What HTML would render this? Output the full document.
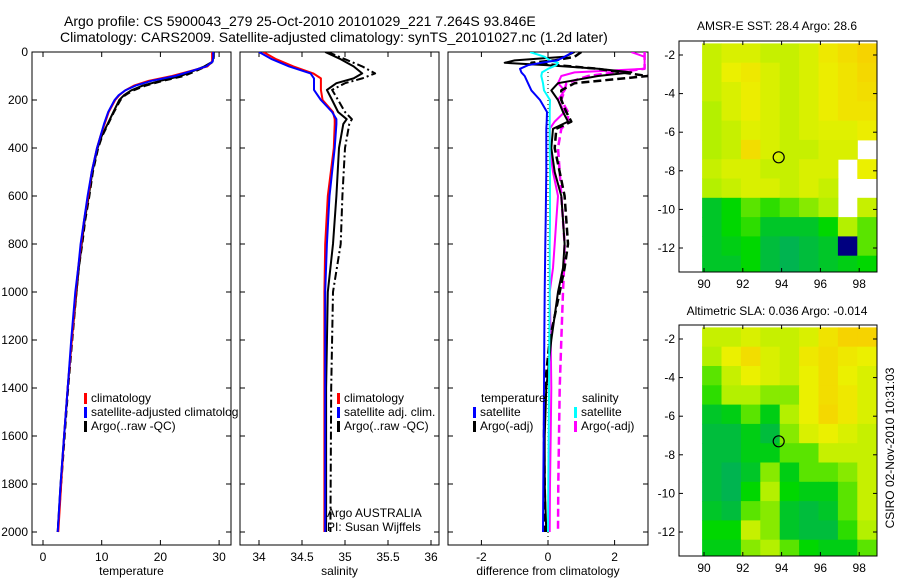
<!DOCTYPE html>
<html><head><meta charset="utf-8">
<style>
html,body{margin:0;padding:0;background:#fff;}
svg{display:block;font-family:"Liberation Sans",sans-serif;font-size:12px;}
</style></head>
<body>
<svg id="fig" width="900" height="580" viewBox="0 0 900 580">
<text x="64" y="26" style="font-size:14px">Argo profile: CS 5900043_279 25-Oct-2010 20101029_221 7.264S 93.846E</text>
<text x="60" y="42" style="font-size:14px">Climatology: CARS2009. Satellite-adjusted climatology: synTS_20101027.nc (1.2d later)</text>
<text x="777" y="30" text-anchor="middle">AMSR-E SST: 28.4 Argo: 28.6</text>
<text x="777" y="315" text-anchor="middle">Altimetric SLA: 0.036 Argo: -0.014</text>
<text transform="translate(894,448) rotate(-90)" text-anchor="middle">CSIRO 02-Nov-2010 10:31:03</text>
<g id="g"></g>
</svg>
<script>
// ---- data ----
const depths = [0,20,40,60,80,100,120,140,160,180,200,250,300,350,400,500,600,700,800,900,1000,1200,1400,1600,1800,2000];
const tempClim = [28.8,28.8,28.8,28,25,22,18,15.5,14,13,12.3,11.2,10.5,9.8,9.2,8.3,7.7,7,6.5,6,5.6,4.9,4.2,3.6,3.1,2.6];
const tempSat  = [29.0,29.0,28.9,27.8,25.2,22.5,18.5,15.8,14,12.9,12.2,11.1,10.4,9.8,9.2,8.3,7.6,7,6.4,6,5.5,4.8,4.2,3.6,3.0,2.5];
const tempArgo = [29.0,29.0,28.9,27.5,25.5,23.5,20,17,15,13.8,13,12,11,10,9.3,8.4,7.8,7.1,6.6,6.1,5.7,4.9,4.2,3.6,3.0,2.5];
const tempArgoAdj = [29.1,29.1,29.0,27.8,26.0,24.0,20.5,17.5,15.4,14.0,13.2,12.1,11.1,10.1,9.4,8.5,7.9,7.2,6.7,6.1,5.7,5.0,4.3,3.7,3.1,2.5];
const salDepths = [0,30,60,89,110,130,158,200,250,280,300,400,600,800,1000,1400,2000];
const salClim = [34.05,34.2,34.4,34.63,34.72,34.72,34.72,34.74,34.86,34.88,34.88,34.87,34.8,34.77,34.76,34.76,34.76];
const salSat  = [34.0,34.15,34.35,34.6,34.64,34.64,34.64,34.72,34.85,34.9,34.9,34.88,34.82,34.79,34.77,34.77,34.77];
const salArgo = [34.77,34.95,35.1,35.2,35.1,34.9,34.79,34.85,34.92,35.02,34.98,34.93,34.9,34.86,34.8,34.78,34.78];
const salArgoAdj = [34.8,35.0,35.2,35.35,35.2,35.0,34.85,34.92,35.0,35.08,35.05,35.0,34.97,34.95,34.86,34.84,34.83];
const diffDepths = [0,20,35,45,55,70,85,100,130,160,200,250,290,320,400,500,600,700,800,900,1000,1200,1400,1600,1800,2000];
const dTempSat = [0.75,0.5,0.27,-0.2,-0.6,-0.84,-0.8,-0.7,-0.6,-0.5,-0.24,-0.03,-0.04,-0.05,-0.05,-0.05,-0.06,-0.07,-0.08,-0.09,-0.1,-0.11,-0.12,-0.13,-0.14,-0.15];
const dSalSat  = [-0.54,-0.1,0.06,0.3,0.25,0.0,-0.18,-0.2,-0.15,-0.12,0.06,0.05,0.05,0.05,0.05,0.06,0.06,0.06,0.05,0.05,0.05,0.04,0.03,0.02,0.01,0.0];
const dTempArgo = [0.8,0.5,-1.0,-1.3,0,1.5,2.5,1.5,0.3,0.1,0.3,0.45,0.6,0.15,0.1,0.2,0.4,0.45,0.5,0.45,0.3,0.1,-0.05,-0.1,-0.1,-0.05];
const dTempArgoAdj = [1.0,0.8,0.2,-0.5,0.3,1.5,2.2,3.0,0.8,0.4,0.4,0.55,0.7,0.25,0.2,0.35,0.5,0.55,0.6,0.5,0.35,0.05,-0.1,-0.12,-0.1,-0.08];
const dSalArgo = [2.5,2.9,2.9,2.9,2.9,2.9,0.8,0.4,0.3,0.5,0.3,0.5,0.2,0.05,0.05,0.15,0.3,0.25,0.2,0.15,0.05,0.08,0.1,0.08,0.06,0.05];
const dSalArgoAdj = [2.9,2.9,2.9,2.9,2.9,2.9,2.0,1.2,0.55,0.5,0.4,0.6,0.6,0.4,0.3,0.35,0.4,0.45,0.5,0.48,0.45,0.4,0.35,0.33,0.31,0.3];
const depthTicks = [0,200,400,600,800,1000,1200,1400,1600,1800,2000];
const tempTicks = [0,10,20,30];
const salTicks = [34,34.5,35,35.5,36];
const diffTicks = [-2,0,2];
const lonTicks = [90,92,94,96,98];
const latTicks = [-2,-4,-6,-8,-10,-12];
const gridLons = [90,91,92,93,94,95,96,97,98];
const gridLats = [-1.4,-2.4,-3.4,-4.4,-5.4,-6.4,-7.4,-8.4,-9.4,-10.4,-11.4,-12.4];
const sstGrid = [
[0.45,0.5,0.5,0.45,0.45,0.5,0.58,0.62,0.66],
[0.45,0.55,0.58,0.5,0.45,0.5,0.56,0.6,0.64],
[0.45,0.5,0.56,0.5,0.45,0.5,0.56,0.6,0.62],
[0.4,0.5,0.56,0.5,0.45,0.5,0.56,0.6,0.6],
[0.4,0.45,0.52,0.5,0.45,0.5,0.52,0.52,0.56],
[0.4,0.45,0.62,0.5,0.45,0.45,0.5,0.5,null],
[0.45,0.5,0.5,0.45,0.45,0.5,0.5,null,0.55],
[0.4,0.45,0.5,0.5,0.45,0.5,0.45,null,null],
[0.1,0.2,0.3,0.25,0.3,0.35,0.4,null,0.45],
[0.1,0.2,0.25,0.1,0.1,0.1,0.2,0.4,0.3],
[0.1,0.15,0.2,0.05,0.0,0.05,0.1,-1,0.3],
[0.1,0.1,0.2,0.05,0.0,0.05,0.1,0.15,0.2]];
const slaGrid = [
[0.45,0.45,0.5,0.45,0.45,0.5,0.6,0.66,0.66],
[0.4,0.55,0.62,0.5,0.45,0.58,0.62,0.58,0.55],
[0.3,0.45,0.55,0.5,0.45,0.55,0.62,0.55,0.5],
[0.25,0.4,0.4,0.35,0.35,0.55,0.62,0.58,0.5],
[0.1,0.15,0.3,0.15,0.4,0.55,0.64,0.58,0.5],
[0.05,0.05,0.15,0.05,0.35,0.5,0.55,0.5,0.45],
[0.05,0.05,0.15,0.15,0.3,0.3,0.45,0.45,0.45],
[0.05,0.0,0.1,0.35,0.15,0.3,0.3,0.35,0.45],
[0.05,0.0,0.2,0.4,0.2,0.15,0.15,0.3,0.45],
[0.1,0.05,0.3,0.35,0.1,0.05,0.1,0.3,0.45],
[0.2,0.2,0.45,0.35,0.1,0.05,0.05,0.25,0.4],
[0.15,0.15,0.35,0.4,0.3,0.2,0.15,0.15,0.3]];
const argoLon = 93.85, argoLat = -7.3;

// ---- drawing ----
const NS='http://www.w3.org/2000/svg';
const G=document.getElementById('g');
function mk(tag,attrs,parent){const e=document.createElementNS(NS,tag);for(const k in attrs)e.setAttribute(k,attrs[k]);(parent||G).appendChild(e);return e;}
const yD = d => 52 + d*0.24;
const PB = 545;
function panel(name,x0,x1,xs,ticks,label,fmt){
  const r=mk('rect',{x:x0,y:52,width:x1-x0,height:PB-52,fill:'none',stroke:'#000','stroke-width':1});
  
  
  ticks.forEach(t=>{const x=xs(t);
    mk('line',{x1:x,x2:x,y1:PB,y2:PB-5,stroke:'#000'});
    mk('line',{x1:x,x2:x,y1:52,y2:57,stroke:'#000'});
    const tx=mk('text',{x:x,y:PB+16,'text-anchor':'middle'});tx.textContent=fmt?fmt(t):t;
    
    
  });
  depthTicks.forEach(d=>{const y=yD(d);
    mk('line',{x1:x0,x2:x0+5,y1:y,y2:y,stroke:'#000'});
    mk('line',{x1:x1,x2:x1-5,y1:y,y2:y,stroke:'#000'});
  });
  const l=mk('text',{x:(x0+x1)/2,y:PB+30,'text-anchor':'middle'});l.textContent=label;
  
  
}
function series(name,xs,vals,ds,color,dash,w,clip){
  const pts=vals.map((v,i)=>xs(v).toFixed(1)+','+yD(ds[i]).toFixed(1)).join(' ');
  const a={points:pts,fill:'none',stroke:color,'stroke-width':w||2,'stroke-linejoin':'round'};
  if(dash)a['stroke-dasharray']=dash;
  if(clip)a['clip-path']='url(#'+clip+')';
  const p=mk('polyline',a);
  
  
}
function legend(name,x,y,color,text,clip){
  mk('rect',{x:x,y:y-9,width:3,height:11,fill:color});
  const a={x:x+7,y:y};if(clip)a['clip-path']='url(#'+clip+')';
  const t=mk('text',a);t.textContent=text;
  
  
}
depthTicks.forEach(d=>{const t=mk('text',{x:28,y:yD(d)+4,'text-anchor':'end'});t.textContent=d;
  
  });

const defs=mk('defs',{});
[['c1',32,231],['c2',240,439],['c3',448,648],['cl1',32,238]].forEach(c=>{const cp=mk('clipPath',{id:c[0]},defs);mk('rect',{x:c[1],y:52,width:c[2]-c[1],height:PB-52},cp);});

// panel 1 temperature
const xT = v => 43 + v*5.87;
panel('temperature-panel',32,231,xT,tempTicks,'temperature');
series('temp-argo-line',xT,tempArgo,depths,'#000',null,2,'c1');
series('temp-argo-adj-line',xT,tempArgoAdj,depths,'#000','7,4',2,'c1');
series('temp-clim-line',xT,tempClim,depths,'#f00',null,2,'c1');
series('temp-sat-line',xT,tempSat,depths,'#00f',null,2,'c1');
legend('legend-climatology',84,402,'#f00','climatology');
legend('legend-satellite-adjusted',84,416,'#00f','satellite-adjusted climatology','cl1');
legend('legend-argo',84,430,'#000','Argo(..raw -QC)');

// panel 2 salinity
const xS = v => 259 + (v-34)*86;
panel('salinity-panel',240,439,xS,salTicks,'salinity');
series('sal-argo-line',xS,salArgo,salDepths,'#000',null,2,'c2');
series('sal-argo-adj-line',xS,salArgoAdj,salDepths,'#000','8,3,2,3',2,'c2');
series('sal-clim-line',xS,salClim,salDepths,'#f00',null,2,'c2');
series('sal-sat-line',xS,salSat,salDepths,'#00f',null,2,'c2');
legend('sal-legend-climatology',337,402,'#f00','climatology');
legend('sal-legend-satellite',337,416,'#00f','satellite adj. clim.');
legend('sal-legend-argo',337,430,'#000','Argo(..raw -QC)');
let t1=mk('text',{x:327,y:517});t1.textContent='Argo AUSTRALIA';


let t2=mk('text',{x:327,y:531});t2.textContent='PI: Susan Wijffels';



// panel 3 difference
const xDf = v => 548 + v*33.3;
panel('difference-panel',448,648,xDf,diffTicks,'difference from climatology');
mk('line',{x1:xDf(0),x2:xDf(0),y1:52,y2:PB,stroke:'#000','stroke-dasharray':'1,3'});
series('dsal-argo-adj-line',xDf,dSalArgoAdj,diffDepths,'#f0f','8,4',2.5,'c3');
series('dsal-argo-line',xDf,dSalArgo,diffDepths,'#f0f',null,2,'c3');
series('dtemp-argo-adj-line',xDf,dTempArgoAdj,diffDepths,'#000','8,4',2.5,'c3');
series('dtemp-argo-line',xDf,dTempArgo,diffDepths,'#000',null,2,'c3');
series('dsal-sat-line',xDf,dSalSat,diffDepths,'#0ff',null,2,'c3');
series('dtemp-sat-line',xDf,dTempSat,diffDepths,'#00f',null,2,'c3');
let t3=mk('text',{x:481,y:402});t3.textContent='temperature';


let t4=mk('text',{x:582,y:402});t4.textContent='salinity';


legend('diff-legend-temp-sat',473,416,'#00f','satellite');
legend('diff-legend-temp-argo',473,430,'#000','Argo(-adj)');
legend('diff-legend-sal-sat',574,416,'#0ff','satellite');
legend('diff-legend-sal-argo',574,430,'#f0f','Argo(-adj)');

// maps
const stops=[[0,[0,180,80]],[0.2,[0,215,0]],[0.4,[180,240,0]],[0.55,[235,240,0]],[0.7,[250,200,0]],[0.85,[250,160,0]],[1,[240,100,0]]];
function cmap(v){if(v===-1)return '#000080';v=Math.max(0,Math.min(1,v));
  for(let i=1;i<stops.length;i++){if(v<=stops[i][0]){const a=stops[i-1],b=stops[i],f=(v-a[0])/(b[0]-a[0]);
    const c=a[1].map((x,k)=>Math.round(x+(b[1][k]-x)*f));return 'rgb('+c.join(',')+')';}}return '#f06400';}
function map(name,top,grid){
  const L=679,R=877,B=top+231;
  const xL=lon=>704+(lon-90)*19.4;
  const yL=lat=>top+14+(-2-lat)*19.3;
  const cp=mk('clipPath',{id:name+'-clip'},defs);mk('rect',{x:L,y:top,width:R-L,height:B-top},cp);
  const g=mk('g',{'clip-path':'url(#'+name+'-clip)'});
  
  
  grid.forEach((row,i)=>row.forEach((v,j)=>{if(v===null)return;
    const x0=xL(gridLons[j]-0.1),x1=xL(gridLons[j]+0.9),y0=yL(gridLats[i]),y1=yL(gridLats[i]-1);
    const c=mk('rect',{x:x0.toFixed(1),y:y0.toFixed(1),width:(x1-x0+0.5).toFixed(1),height:(y1-y0+0.5).toFixed(1),fill:cmap(v)},g);
    
    
  }));
  const fr=mk('rect',{x:L,y:top,width:R-L,height:B-top,fill:'none',stroke:'#000'});
  
  
  lonTicks.forEach(l=>{const x=xL(l);mk('line',{x1:x,x2:x,y1:B,y2:B-4,stroke:'#000'});mk('line',{x1:x,x2:x,y1:top,y2:top+4,stroke:'#000'});
    const t=mk('text',{x:x,y:B+16,'text-anchor':'middle'});t.textContent=l;
    
    });
  latTicks.forEach(l=>{const y=yL(l);mk('line',{x1:L,x2:L+4,y1:y,y2:y,stroke:'#000'});mk('line',{x1:R,x2:R-4,y1:y,y2:y,stroke:'#000'});
    const t=mk('text',{x:L-4,y:y+4,'text-anchor':'end'});t.textContent=l;
    
    });
  const c=mk('circle',{cx:xL(argoLon),cy:yL(argoLat),r:5.5,fill:'none',stroke:'#000','stroke-width':1.2});
  
  
}
map('sst-map',41,sstGrid);
map('sla-map',325,slaGrid);
</script>
</body></html>
